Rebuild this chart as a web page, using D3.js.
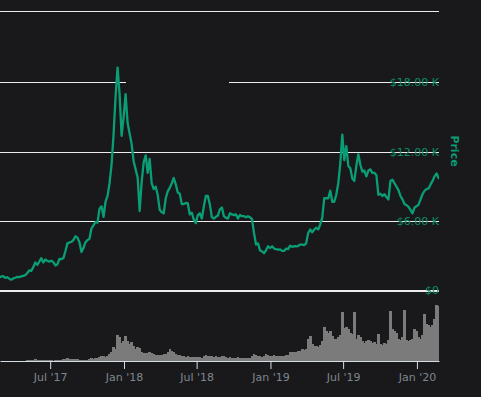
<!DOCTYPE html>
<html>
<head>
<meta charset="utf-8">
<script src="https://cdn.jsdelivr.net/npm/d3@7"></script>
<style>
html, body { margin: 0; padding: 0; background: #19191b; }
svg { display: block; font-family: "DejaVu Sans", sans-serif; }
</style>
</head>
<body>
<div class="chart"></div>
<script>
//Data (5-day samples)
var dates = [
    "2017-02-24",
    "2017-03-01","2017-03-06","2017-03-11","2017-03-16","2017-03-21","2017-03-26","2017-03-31",
    "2017-04-05","2017-04-10","2017-04-15","2017-04-20","2017-04-25","2017-04-30",
    "2017-05-05","2017-05-10","2017-05-15","2017-05-20","2017-05-25","2017-05-30",
    "2017-06-04","2017-06-09","2017-06-14","2017-06-19","2017-06-24","2017-06-29",
    "2017-07-04","2017-07-09","2017-07-14","2017-07-19","2017-07-24","2017-07-29",
    "2017-08-03","2017-08-08","2017-08-13","2017-08-18","2017-08-23","2017-08-28",
    "2017-09-02","2017-09-07","2017-09-12","2017-09-17","2017-09-22","2017-09-27",
    "2017-10-02","2017-10-07","2017-10-12","2017-10-17","2017-10-22","2017-10-27",
    "2017-11-01","2017-11-06","2017-11-11","2017-11-16","2017-11-21","2017-11-26",
    "2017-12-01","2017-12-06","2017-12-11","2017-12-16","2017-12-21","2017-12-26","2017-12-31",
    "2018-01-05","2018-01-10","2018-01-15","2018-01-20","2018-01-25","2018-01-30",
    "2018-02-04","2018-02-09","2018-02-14","2018-02-19","2018-02-24",
    "2018-03-01","2018-03-06","2018-03-11","2018-03-16","2018-03-21","2018-03-26","2018-03-31",
    "2018-04-05","2018-04-10","2018-04-15","2018-04-20","2018-04-25","2018-04-30",
    "2018-05-05","2018-05-10","2018-05-15","2018-05-20","2018-05-25","2018-05-30",
    "2018-06-04","2018-06-09","2018-06-14","2018-06-19","2018-06-24","2018-06-29",
    "2018-07-04","2018-07-09","2018-07-14","2018-07-19","2018-07-24","2018-07-29",
    "2018-08-03","2018-08-08","2018-08-13","2018-08-18","2018-08-23","2018-08-28",
    "2018-09-02","2018-09-07","2018-09-12","2018-09-17","2018-09-22","2018-09-27",
    "2018-10-02","2018-10-07","2018-10-12","2018-10-17","2018-10-22","2018-10-27",
    "2018-11-01","2018-11-06","2018-11-11","2018-11-16","2018-11-21","2018-11-26",
    "2018-12-01","2018-12-06","2018-12-11","2018-12-16","2018-12-21","2018-12-26","2018-12-31",
    "2019-01-05","2019-01-10","2019-01-15","2019-01-20","2019-01-25","2019-01-30",
    "2019-02-04","2019-02-09","2019-02-14","2019-02-19","2019-02-24",
    "2019-03-01","2019-03-06","2019-03-11","2019-03-16","2019-03-21","2019-03-26","2019-03-31",
    "2019-04-05","2019-04-10","2019-04-15","2019-04-20","2019-04-25","2019-04-30",
    "2019-05-05","2019-05-10","2019-05-15","2019-05-20","2019-05-25","2019-05-30",
    "2019-06-04","2019-06-09","2019-06-14","2019-06-19","2019-06-24","2019-06-29",
    "2019-07-04","2019-07-09","2019-07-14","2019-07-19","2019-07-24","2019-07-29",
    "2019-08-03","2019-08-08","2019-08-13","2019-08-18","2019-08-23","2019-08-28",
    "2019-09-02","2019-09-07","2019-09-12","2019-09-17","2019-09-22","2019-09-27",
    "2019-10-02","2019-10-07","2019-10-12","2019-10-17","2019-10-22","2019-10-27",
    "2019-11-01","2019-11-06","2019-11-11","2019-11-16","2019-11-21","2019-11-26",
    "2019-12-01","2019-12-06","2019-12-11","2019-12-16","2019-12-21","2019-12-26","2019-12-31",
    "2020-01-05","2020-01-10","2020-01-15","2020-01-20","2020-01-25","2020-01-30",
    "2020-02-04","2020-02-09","2020-02-14","2020-02-19","2020-02-24","2020-02-29"
];

var prices = [
    1170,
    1220, 1270, 1110, 1170, 1050, 960, 1070,
    1130, 1200, 1180, 1240, 1290, 1350,
    1540, 1760, 1720, 2050, 2450, 2250,
    2520, 2820, 2450, 2700, 2580, 2520,
    2600, 2480, 2200, 2280, 2750, 2740,
    2830, 3420, 4100, 4180, 4220, 4400,
    4720, 4600, 4200, 3350, 3700, 4200,
    4380, 4500, 5400, 5650, 5950, 5900,
    7100, 7300, 6400, 7700, 8200, 9300,
    10900, 13500, 16800, 19300, 17000, 13400, 15000,
    17000, 14500, 13600, 12700, 11200, 10500,
    9800, 6900, 9400, 11100, 11700,
    10200, 11400, 9300, 8800, 9000, 8300, 7000,
    6800, 6700, 8000, 8600, 8900, 9300,
    9750, 9200, 8500, 8400, 7500, 7500,
    7600, 7550, 6600, 6750, 6150, 5850,
    6550, 6700, 6250, 7300, 8200, 8200,
    7450, 6350, 6250, 6400, 6500, 7050,
    7200, 6450, 6300, 6250, 6700, 6600,
    6550, 6600, 6250, 6550, 6450, 6450,
    6350, 6450, 6350, 6200, 5000, 4000,
    4100, 3500, 3400, 3250, 3500, 3850, 3700,
    3850, 3650, 3600, 3550, 3580, 3450,
    3450, 3650, 3600, 3900, 3800,
    3850, 3850, 3870, 4000, 4000, 3950, 4100,
    5000, 5300, 5050, 5300, 5450, 5300,
    5750, 6300, 8000, 8000, 8000, 8650,
    7700, 7700, 8300, 9300, 11000, 13500,
    11300, 12500, 10800, 10600, 9700, 9500,
    10800, 11800, 10900, 10300, 10400, 9900,
    10400, 10500, 10200, 10200, 10000, 8300,
    8400, 8200, 8350, 8100, 7900, 9500,
    9600, 9300, 9000, 8700, 8200, 7900,
    7500, 7400, 7250, 7000, 6700, 7200, 7300,
    7450, 7900, 8350, 8650, 8800, 8850,
    9200, 9500, 9900, 10150, 9750, 9700
];

//Volume (billions USD)
var volumes = [
    0,
    0, 0, 0, 0, 0, 0, 0,
    0, 0, 0, 0, 0, 0,
    0.1, 0.1, 0.1, 0.15, 0.2, 0.15,
    0.1, 0.15, 0.15, 0.1, 0.1, 0.1,
    0.1, 0.05, 0.1, 0.15, 0.1, 0.1,
    0.2, 0.25, 0.3, 0.2, 0.2, 0.2,
    0.25, 0.2, 0.1, 0.15, 0.1, 0.1,
    0.15, 0.2, 0.3, 0.25, 0.3, 0.35,
    0.4, 0.5, 0.5, 0.4, 0.5, 0.7,
    0.9, 1.4, 1.2, 2.6, 2.4, 1.8, 2.0,
    2.5, 2.0, 1.7, 1.9, 1.5, 1.2,
    1.4, 1.3, 0.9, 0.8, 0.8,
    0.8, 0.9, 0.8, 0.7, 0.6, 0.6, 0.6,
    0.6, 0.7, 0.7, 0.9, 1.2, 1.0,
    0.9, 0.7, 0.6, 0.6, 0.5, 0.5,
    0.4, 0.5, 0.4, 0.4, 0.4, 0.4,
    0.4, 0.4, 0.3, 0.5, 0.6, 0.5,
    0.5, 0.5, 0.4, 0.5, 0.4, 0.4,
    0.5, 0.5, 0.4, 0.3, 0.4, 0.3,
    0.3, 0.3, 0.4, 0.3, 0.3, 0.3,
    0.3, 0.3, 0.3, 0.5, 0.7, 0.6,
    0.5, 0.5, 0.4, 0.5, 0.7, 0.6, 0.5,
    0.5, 0.6, 0.5, 0.5, 0.5, 0.5,
    0.5, 0.6, 0.6, 0.9, 0.9,
    0.9, 0.9, 1.0, 1.0, 1.2, 1.1, 1.2,
    2.2, 2.5, 1.7, 1.5, 1.5, 1.4,
    1.6, 2.0, 3.4, 3.0, 2.8, 3.0,
    2.5, 2.2, 2.2, 2.4, 2.6, 4.9,
    3.3, 3.4, 3.2, 2.8, 2.7, 4.9,
    2.2, 2.6, 2.4, 2.0, 1.8, 2.0,
    2.1, 2.0, 1.8, 1.9, 1.7, 2.7,
    1.7, 1.6, 1.8, 1.7, 2.1, 5.0,
    3.2, 3.0, 2.8, 2.2, 2.1, 2.4,
    5.1, 2.1, 2.0, 2.1, 2.2, 3.2, 3.0,
    2.4, 2.2, 2.6, 4.7, 3.7, 3.6,
    3.4, 3.6, 4.2, 5.6, 5.5, 5.7
];

//Axis ticks
var priceTicks = [0, 6000, 12000, 18000];
var priceTickLabels = ["$0", "$6.00 K", "$12.00 K", "$18.00 K"];
var dateTicks = ["2017-07-01", "2018-01-01", "2018-07-01", "2019-01-01", "2019-07-01", "2020-01-01"];
var dateTickLabels = ["Jul '17", "Jan '18", "Jul '18", "Jan '19", "Jul '19", "Jan '20"];

//Width and height
var w = 481;
var h = 397;
var plotW = 439;
var bg = "#19191b";
var green = "#0a9e76";

var parse = d3.timeParse("%Y-%m-%d");
var data = dates.map((d, i) => ({ date: parse(d), price: prices[i], volume: volumes[i] }));

//Scales
var x = d3.scaleTime()
    .domain([parse("2017-02-26"), parse("2020-02-25")])
    .range([0, plotW]);

var y = d3.scaleLinear()
    .domain([0, 24000])
    .range([290.8, 13.2]);

var yVol = d3.scaleLinear()
    .domain([0, d3.max(volumes)])
    .range([361, 304]);

//Create SVG element
var svg = d3.select(".chart")
    .append("svg")
    .attr("width", w)
    .attr("height", h);

svg.append("rect")
    .attr("width", w)
    .attr("height", h)
    .attr("fill", bg);

svg.append("defs").append("clipPath")
    .attr("id", "clip")
    .append("rect")
    .attr("x", 0)
    .attr("y", 0)
    .attr("width", plotW)
    .attr("height", h);

//Top border of the price pane
svg.append("line")
    .attr("x1", 0)
    .attr("x2", plotW)
    .attr("y1", 11.5)
    .attr("y2", 11.5)
    .attr("stroke", "#ececec")
    .attr("stroke-width", 1);

//Gridlines
svg.append("g")
    .selectAll("line")
    .data(priceTicks)
    .join("line")
    .attr("x1", 0)
    .attr("x2", plotW)
    .attr("y1", d => d === 0 ? 291 : Math.floor(y(d)) + 0.5)
    .attr("y2", d => d === 0 ? 291 : Math.floor(y(d)) + 0.5)
    .attr("stroke", "#ececec")
    .attr("stroke-width", d => d === 0 ? 2 : 1);

//Gap in the upper gridline
svg.append("rect")
    .attr("x", 126)
    .attr("y", Math.floor(y(18000)) - 4)
    .attr("width", 103)
    .attr("height", 8)
    .attr("fill", bg);

//Volume bars
svg.append("g")
    .attr("clip-path", "url(#clip)")
    .attr("shape-rendering", "crispEdges")
    .selectAll("rect")
    .data(data.filter(d => d.volume > 0))
    .join("rect")
    .attr("x", d => x(d.date) - 1.2)
    .attr("width", 2.6)
    .attr("y", d => yVol(d.volume))
    .attr("height", d => 361 - yVol(d.volume))
    .attr("fill", "#7b7b7b");

//Price line
var line = d3.line()
    .x(d => x(d.date))
    .y(d => y(d.price));

svg.append("path")
    .datum(data)
    .attr("clip-path", "url(#clip)")
    .attr("fill", "none")
    .attr("stroke", green)
    .attr("stroke-width", 2.3)
    .attr("stroke-linejoin", "round")
    .attr("d", line);

//Price labels
svg.append("g")
    .selectAll("text")
    .data(priceTicks)
    .join("text")
    .attr("x", plotW)
    .attr("y", d => Math.floor(y(d)) + 0.5)
    .attr("dy", "0.35em")
    .attr("text-anchor", "end")
    .attr("font-size", 11)
    .attr("fill", "#0c8e68")
    .text((d, i) => priceTickLabels[i]);

//Price title
svg.append("text")
    .attr("transform", "translate(455, 151) rotate(90)")
    .attr("text-anchor", "middle")
    .attr("dy", "0.35em")
    .attr("font-size", 11)
    .attr("font-weight", "bold")
    .attr("fill", green)
    .text("Price");

//Date axis
svg.append("g")
    .attr("transform", "translate(0, 361)")
    .call(d3.axisBottom(x)
        .tickValues(dateTicks.map(parse))
        .tickFormat((d, i) => dateTickLabels[i])
        .tickSize(8)
        .tickSizeOuter(0)
        .tickPadding(4))
    .call(g => g.select(".domain").attr("stroke", "#d5dce4"))
    .call(g => g.selectAll(".tick line").attr("stroke", "#d5dce4"))
    .call(g => g.selectAll(".tick text")
        .attr("fill", "#7e8690")
        .attr("font-size", 11)
        .attr("font-family", "DejaVu Sans, sans-serif"));
</script>
</body>
</html>
